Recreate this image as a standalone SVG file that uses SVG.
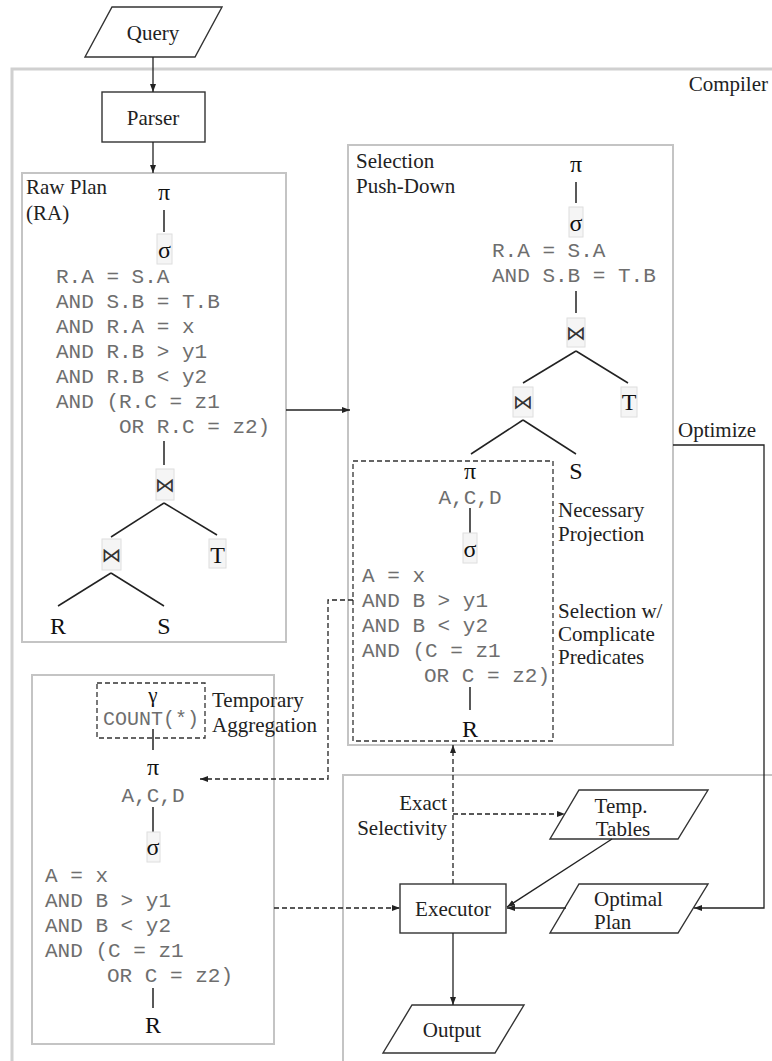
<svg xmlns="http://www.w3.org/2000/svg" width="772" height="1061" viewBox="0 0 772 1061">
<style>
.lbl{font-family:"Liberation Serif","Times New Roman",serif;font-size:21px;fill:#222}
.sym{font-family:"Liberation Serif","DejaVu Serif",serif;font-size:24px;fill:#111;text-anchor:middle}
.join{font-family:"DejaVu Sans",sans-serif;font-size:20px;fill:#333;text-anchor:middle}
.code{font-family:"Liberation Mono","Courier New",monospace;font-size:21px;fill:#6e6e6e}
.code2{font-family:"Liberation Mono","Courier New",monospace;font-size:20px;fill:#6e6e6e}
.mid{text-anchor:middle}
.end{text-anchor:end}
.gbox{fill:none;stroke:#c4c4c4;stroke-width:2}
.outer{fill:none;stroke:#d0d0d0;stroke-width:3}
.bbox{fill:#fff;stroke:#333;stroke-width:1.4}
.sbox{fill:#f5f5f5;stroke:#dedede;stroke-width:1}
.tl{stroke:#222;stroke-width:1.5;fill:none}
.dbox{fill:none;stroke:#333;stroke-width:1.3;stroke-dasharray:5,3}
.c{stroke:#222;stroke-width:1.3;fill:none}
.d{stroke:#222;stroke-width:1.3;fill:none;stroke-dasharray:5,3}
</style>
<defs>
<marker id="ah" markerWidth="8" markerHeight="6" refX="8" refY="3" orient="auto" markerUnits="userSpaceOnUse">
<path d="M0,0 L8,3 L0,6 z" fill="#222"/>
</marker>
</defs>
<rect width="772" height="1061" fill="#fff"/>

<g id="compiler">
<rect class="outer" x="12" y="69" width="780" height="1010"/>
<text class="lbl end" x="768" y="91">Compiler</text>
</g>

<g id="executor-area">
<rect class="gbox" x="343" y="775" width="450" height="300"/>
</g>

<g id="query">
<polygon class="bbox" points="112,7 222,7 195,57 85,57"/>
<text class="lbl mid" x="153" y="40">Query</text>
</g>

<g id="parser">
<rect class="bbox" x="102" y="92" width="103" height="50"/>
<text class="lbl mid" x="153" y="125">Parser</text>
</g>

<g id="raw-plan">
<rect class="gbox" x="22" y="173" width="264" height="469"/>
<text class="lbl" x="26" y="194">Raw Plan</text>
<text class="lbl" x="26" y="220">(RA)</text>
<text class="sym" x="164" y="200">π</text>
<line class="tl" x1="164" y1="210" x2="164" y2="232"/>
<rect class="sbox" x="157" y="234" width="15" height="30"/>
<text class="sym" x="164.5" y="258">σ</text>
<text class="code" x="56" y="283">R.A = S.A</text>
<text class="code" x="56" y="308">AND S.B = T.B</text>
<text class="code" x="56" y="333">AND R.A = x</text>
<text class="code" x="56" y="358">AND R.B &gt; y1</text>
<text class="code" x="56" y="383">AND R.B &lt; y2</text>
<text class="code" x="56" y="408">AND (R.C = z1</text>
<text class="code" x="119" y="433">OR R.C = z2)</text>
<line class="tl" x1="164" y1="441" x2="164" y2="465"/>
<rect class="sbox" x="156" y="469" width="18" height="31"/>
<text class="join" x="165" y="492">⋈</text>
<line class="tl" x1="164" y1="503" x2="111" y2="537"/>
<line class="tl" x1="164" y1="503" x2="217" y2="535"/>
<rect class="sbox" x="102" y="539" width="19" height="31"/>
<text class="join" x="111.5" y="562">⋈</text>
<rect class="sbox" x="209" y="539" width="17" height="29"/>
<text class="sym" x="217.5" y="563">T</text>
<line class="tl" x1="111" y1="573" x2="58" y2="606"/>
<line class="tl" x1="111" y1="573" x2="164" y2="606"/>
<text class="sym" x="58" y="634">R</text>
<text class="sym" x="164" y="634">S</text>
</g>

<g id="pushdown">
<rect class="gbox" x="348" y="145" width="325" height="600"/>
<text class="lbl" x="356" y="168">Selection</text>
<text class="lbl" x="356" y="193">Push-Down</text>
<text class="sym" x="576" y="172">π</text>
<line class="tl" x1="576" y1="182" x2="576" y2="203"/>
<rect class="sbox" x="569" y="207" width="14" height="30"/>
<text class="sym" x="576" y="231">σ</text>
<text class="code" x="492" y="257">R.A = S.A</text>
<text class="code" x="492" y="282">AND S.B = T.B</text>
<line class="tl" x1="576" y1="291" x2="576" y2="313"/>
<rect class="sbox" x="567" y="318" width="18" height="29"/>
<text class="join" x="576" y="340">⋈</text>
<line class="tl" x1="576" y1="351" x2="523" y2="383"/>
<line class="tl" x1="576" y1="351" x2="628" y2="383"/>
<rect class="sbox" x="513" y="387" width="20" height="30"/>
<text class="join" x="523" y="409">⋈</text>
<rect class="sbox" x="621" y="387" width="16" height="30"/>
<text class="sym" x="629" y="410">T</text>
<line class="tl" x1="523" y1="420" x2="471" y2="454"/>
<line class="tl" x1="523" y1="420" x2="576" y2="454"/>
<text class="sym" x="576" y="479">S</text>
<rect class="dbox" x="353" y="461" width="200" height="280"/>
<text class="sym" x="470" y="479">π</text>
<text class="code" x="470" y="504" text-anchor="middle">A,C,D</text>
<line class="tl" x1="470" y1="508" x2="470" y2="533"/>
<rect class="sbox" x="463" y="533" width="14" height="30"/>
<text class="sym" x="470" y="557">σ</text>
<text class="code" x="362" y="582">A = x</text>
<text class="code" x="362" y="607">AND B &gt; y1</text>
<text class="code" x="362" y="632">AND B &lt; y2</text>
<text class="code" x="362" y="657">AND (C = z1</text>
<text class="code" x="424" y="682">OR C = z2)</text>
<line class="tl" x1="470" y1="687" x2="470" y2="710"/>
<text class="sym" x="470" y="737">R</text>
<text class="lbl" x="558" y="517">Necessary</text>
<text class="lbl" x="558" y="541">Projection</text>
<text class="lbl" x="558" y="618">Selection w/</text>
<text class="lbl" x="558" y="641">Complicate</text>
<text class="lbl" x="558" y="664">Predicates</text>
</g>

<g id="temp-agg">
<rect class="gbox" x="32" y="675" width="242" height="369"/>
<rect class="dbox" x="97" y="683" width="108" height="55"/>
<text class="sym" x="153" y="702" style="font-size:21px">γ</text>
<text class="code2" x="151" y="725" text-anchor="middle">COUNT(*)</text>
<text class="lbl" x="212" y="707">Temporary</text>
<text class="lbl" x="212" y="732">Aggregation</text>
<line class="tl" x1="153" y1="729" x2="153" y2="750"/>
<text class="sym" x="153" y="775">π</text>
<text class="code" x="153" y="802" text-anchor="middle">A,C,D</text>
<line class="tl" x1="153" y1="807" x2="153" y2="832"/>
<rect class="sbox" x="147" y="832" width="13" height="30"/>
<text class="sym" x="153" y="855">σ</text>
<text class="code" x="45" y="882">A = x</text>
<text class="code" x="45" y="907">AND B &gt; y1</text>
<text class="code" x="45" y="932">AND B &lt; y2</text>
<text class="code" x="45" y="957">AND (C = z1</text>
<text class="code" x="107" y="982">OR C = z2)</text>
<line class="tl" x1="153" y1="988" x2="153" y2="1008"/>
<text class="sym" x="153" y="1033">R</text>
</g>

<g id="executor">
<rect class="bbox" x="400" y="884" width="106" height="49"/>
<text class="lbl mid" x="453" y="916">Executor</text>
</g>

<g id="temp-tables">
<polygon class="bbox" points="579,790 708,790 678,839 550,839"/>
<text class="lbl mid" x="621" y="813">Temp.</text>
<text class="lbl mid" x="623" y="836">Tables</text>
</g>

<g id="optimal-plan">
<polygon class="bbox" points="579,884 708,884 678,933 550,933"/>
<text class="lbl" x="594" y="906">Optimal</text>
<text class="lbl" x="594" y="929">Plan</text>
</g>

<g id="output">
<polygon class="bbox" points="412,1005 524,1005 495,1053 383,1053"/>
<text class="lbl mid" x="452" y="1037">Output</text>
</g>

<g id="labels">
<text class="lbl" x="678" y="437">Optimize</text>
<text class="lbl end" x="447" y="810">Exact</text>
<text class="lbl end" x="447" y="835">Selectivity</text>
</g>

<g id="connectors">
<line class="c" x1="153" y1="57" x2="153" y2="92" marker-end="url(#ah)"/>
<line class="c" x1="153" y1="142" x2="153" y2="173" marker-end="url(#ah)"/>
<line class="c" x1="286" y1="410" x2="350" y2="410" marker-end="url(#ah)"/>
<polyline class="c" points="673,445 764,445 764,908 694,908" marker-end="url(#ah)"/>
<line class="c" x1="566" y1="908" x2="507" y2="908" marker-end="url(#ah)"/>
<line class="c" x1="612" y1="839" x2="507" y2="907" marker-end="url(#ah)"/>
<line class="c" x1="453" y1="933" x2="453" y2="1005" marker-end="url(#ah)"/>
<line class="d" x1="453" y1="884" x2="453" y2="745" marker-end="url(#ah)"/>
<line class="d" x1="453" y1="814" x2="565" y2="814" marker-end="url(#ah)"/>
<line class="d" x1="274" y1="908" x2="400" y2="908" marker-end="url(#ah)"/>
<polyline class="d" points="353,600 328,600 328,779 200,779" marker-end="url(#ah)"/>
</g>
</svg>
